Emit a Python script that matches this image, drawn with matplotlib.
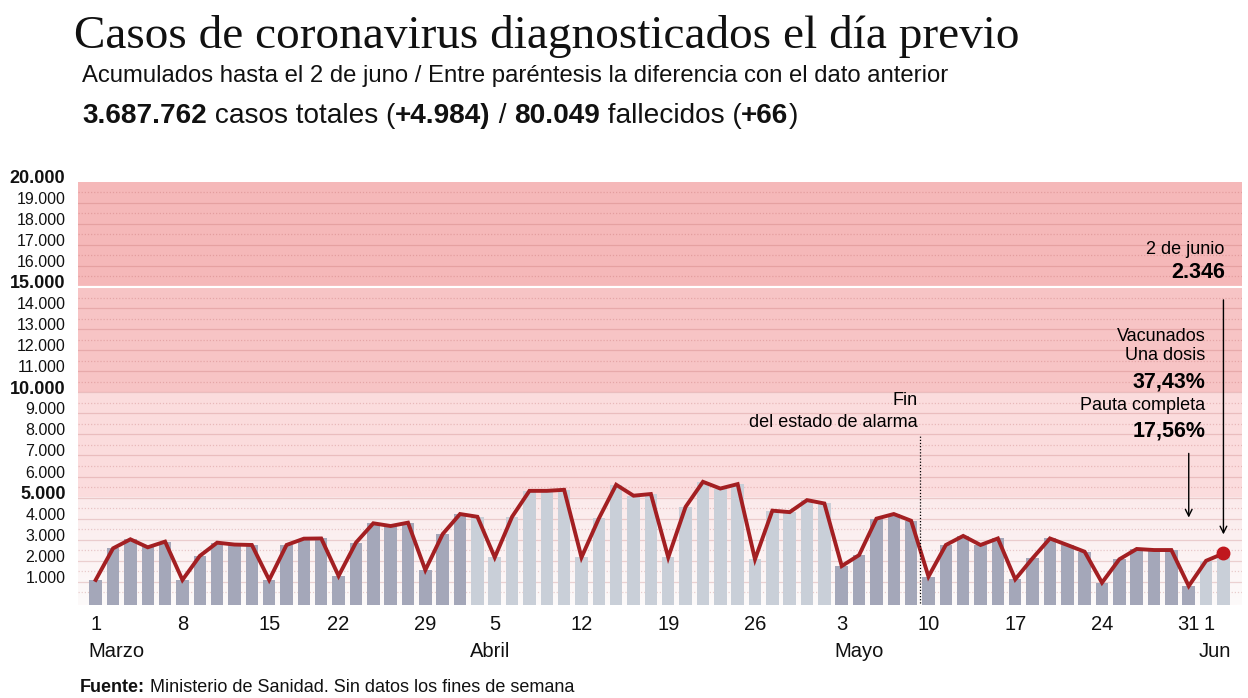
import datetime
import numpy as np
import matplotlib
matplotlib.use('Agg')
import matplotlib.pyplot as plt
from matplotlib.transforms import ScaledTranslation

# Días con datos (sin fines de semana ni festivos)
dias_marzo = [1, 2, 3, 4, 5, 8, 9, 10, 11, 12, 15, 16, 17, 18, 22, 23, 24, 25, 26, 29, 30, 31]
dias_abril = [1, 5, 6, 7, 8, 9, 12, 13, 14, 15, 16, 19, 20, 21, 22, 23, 26, 27, 28, 29, 30]
dias_mayo = [3, 4, 5, 6, 7, 10, 11, 12, 13, 14, 17, 18, 19, 20, 21, 24, 25, 26, 27, 28, 31]
dias_junio = [1, 2]

casos_marzo = [1090, 2590, 3020, 2640, 2910, 1090, 2230, 2860, 2770, 2750, 1090, 2750, 3050, 3060,
               1280, 2860, 3780, 3650, 3810, 1560, 3270, 4220]
casos_abril = [4090, 2160, 4090, 5320, 5320, 5370, 2160, 4010, 5610, 5090, 5170, 2160, 4560, 5750,
               5430, 5640, 2070, 4380, 4310, 4880, 4720]
casos_mayo = [1750, 2270, 4000, 4220, 3900, 1250, 2750, 3180, 2750, 3060, 1120, 2120, 3060, 2750,
              2430, 960, 2070, 2560, 2510, 2510, 800]
casos_junio = [2000, 2346]

meses = [('Marzo', 3, dias_marzo, casos_marzo, '#a4a7b9'),
         ('Abril', 4, dias_abril, casos_abril, '#c9cfd8'),
         ('Mayo', 5, dias_mayo, casos_mayo, '#a4a7b9'),
         ('Jun', 6, dias_junio, casos_junio, '#c9cfd8')]

fechas, casos, colores, inicio_mes = [], [], [], []
for nombre, m, dias, valores, color in meses:
    inicio_mes.append((len(fechas), nombre))
    for d, v in zip(dias, valores):
        fechas.append(datetime.date(2021, m, d))
        casos.append(v)
        colores.append(color)
x = np.arange(len(fechas))
casos = np.array(casos)

W, H = 1248, 698
fig = plt.figure(figsize=(W / 100, H / 100), dpi=100)
ax = fig.add_axes([78 / W, (H - 605) / H, 1164 / W, 423.3 / H])
ax.set_xlim(-1.02, 66.07)
ax.set_ylim(-100, 20000)
for s in ax.spines.values():
    s.set_visible(False)

# Bandas de fondo
ax.axhspan(15000, 20000, color='#f5b8b9', zorder=0, lw=0)
ax.axhspan(10000, 15000, color='#f7c4c5', zorder=0, lw=0)
ax.axhspan(5000, 10000, color='#fbdcdd', zorder=0, lw=0)
grad = np.linspace(0, 1, 100).reshape(-1, 1)
c_bajo = np.array([253, 250, 250]) / 255
c_alto = np.array([251, 234, 235]) / 255
img = c_bajo + grad[..., None] * (c_alto - c_bajo)
ax.imshow(img, extent=[-1.02, 66.07, -100, 5000], origin='lower', aspect='auto', zorder=0)
for v in range(1000, 20000, 1000):
    ax.axhline(v, color='#b05050', alpha=0.22, lw=0.9, zorder=0.5)
for v in range(500, 20000, 1000):
    ax.axhline(v, color='#b05050', alpha=0.25, lw=0.9, ls=(0, (1, 1.5)), zorder=0.5)
ax.axhline(15000, color='white', lw=1.6, zorder=0.6)

# Barras y línea
ax.bar(x, casos + 100, bottom=-100, width=0.72, color=colores, zorder=2)
ax.plot(x, casos, color='#a31f22', lw=2.8, zorder=3, solid_joinstyle='miter')
ax.plot(x[-1], casos[-1], 'o', color='#c0171e', ms=9, zorder=4)

# Eje Y
yt = list(range(1000, 20001, 1000))
ax.set_yticks(yt)
ax.set_yticklabels([f'{v:,}'.replace(',', '.') for v in yt])
ax.tick_params(axis='y', length=0, pad=9)
ax.tick_params(axis='x', length=0, labelbottom=False)
off = ScaledTranslation(0, 0.05, fig.dpi_scale_trans)
for lab, v in zip(ax.get_yticklabels(), yt):
    lab.set_transform(lab.get_transform() + off)
    lab.set_fontfamily('Liberation Sans')
    if v % 5000 == 0:
        lab.set_fontweight('bold')
        lab.set_fontsize(13)
    else:
        lab.set_fontsize(11.5)
    lab.set_color('#111111')

# Eje X: lunes y 1 de junio
xtr = ax.get_xaxis_transform()
for i, f in enumerate(fechas):
    if f.weekday() == 0 or (f.month == 6 and f.day == 1):
        dx = 0.15 if f.month == 6 else 0
        ax.text(i + dx, -0.047, str(f.day), transform=xtr, ha='center', va='center',
                fontsize=14.5, family='Liberation Sans', color='#111111')
for i, nombre in inicio_mes:
    ax.text(i - 0.45, -0.109, nombre, transform=xtr, ha='left', va='center',
            fontsize=14.5, family='Liberation Sans', color='#111111')

# Fin del estado de alarma
ax.plot([47.5, 47.5], [0, 7940], color='black', lw=0.9, ls=(0, (1, 1.5)), zorder=3)
ax.text(47.4, 9600, 'Fin', ha='right', va='center', fontsize=13, family='Liberation Sans')
ax.text(47.4, 8560, 'del estado de alarma', ha='right', va='center', fontsize=13,
        family='Liberation Sans')

# Anotaciones
ax.text(65.07, 16780, '2 de junio', ha='right', va='center', fontsize=13, family='Liberation Sans')
ax.text(65.07, 15700, '2.346', ha='right', va='center', fontsize=15.5, fontweight='bold',
        family='Liberation Sans')
ax.text(63.95, 12670, 'Vacunados', ha='right', va='center', fontsize=13, family='Liberation Sans')
ax.text(63.95, 11730, 'Una dosis', ha='right', va='center', fontsize=13, family='Liberation Sans')
ax.text(63.95, 10500, '37,43%', ha='right', va='center', fontsize=15.5, fontweight='bold',
        family='Liberation Sans')
ax.text(63.95, 9360, 'Pauta completa', ha='right', va='center', fontsize=13, family='Liberation Sans')
ax.text(63.95, 8180, '17,56%', ha='right', va='center', fontsize=15.5, fontweight='bold',
        family='Liberation Sans')
flecha = dict(arrowstyle='->', color='black', lw=1.0, mutation_scale=12)
ax.annotate('', xy=(63, 3920), xytext=(63, 7230), arrowprops=flecha)
ax.annotate('', xy=(65, 3120), xytext=(65, 14520), arrowprops=flecha)

# Textos de cabecera y pie
fig.canvas.draw()
rend = fig.canvas.get_renderer()
fam = ['Liberation Sans Narrow', 'Liberation Sans']


def ancho(txt, **kw):
    t1 = fig.text(0, 0, txt + '|', **kw)
    t2 = fig.text(0, 0, '|', **kw)
    w = t1.get_window_extent(rend).width - t2.get_window_extent(rend).width
    t1.remove()
    t2.remove()
    return w


def texto_mixto(px, py, partes, size):
    for txt, peso in partes:
        kw = dict(fontsize=size, fontweight=peso, family=fam, color='#111111')
        fig.text(px / W, 1 - py / H, txt, va='baseline', ha='left', **kw)
        px += ancho(txt, **kw)


fig.text(74 / W, 1 - 48 / H, 'Casos de coronavirus diagnosticados el día previo',
         fontsize=34, family='Liberation Serif', va='baseline', ha='left', color='#111111')
texto_mixto(82, 82, [('Acumulados hasta el 2 de juno / Entre paréntesis la diferencia con el dato anterior',
                      'normal')], 17.2)
texto_mixto(82, 123, [('3.687.762', 'bold'), (' casos totales (', 'normal'), ('+4.984)', 'bold'),
                      (' / ', 'normal'), ('80.049', 'bold'), (' fallecidos (', 'normal'),
                      ('+66', 'bold'), (')', 'normal')], 20.2)
texto_mixto(80, 692, [('Fuente:', 'bold'), (' Ministerio de Sanidad. Sin datos los fines de semana',
                                              'normal')], 13)

fig.savefig('out.png', dpi=100)
